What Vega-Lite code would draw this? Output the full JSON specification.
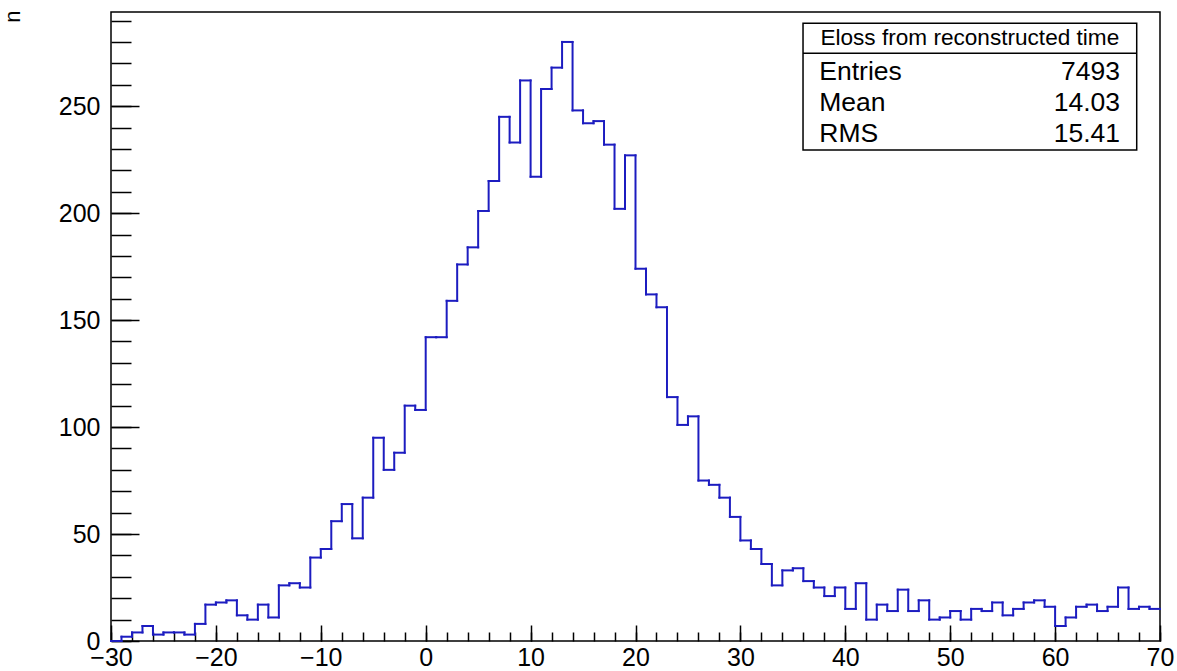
{
  "$schema": "https://vega.github.io/schema/vega-lite/v6.json",
  "width": 1049,
  "height": 629,
  "autosize": {"type": "none"},
  "padding": {"left": 111, "top": 12, "right": 17, "bottom": 30},
  "background": "white",
  "config": {
    "font": "Liberation Sans",
    "view": {"stroke": "black", "strokeWidth": 1.5},
    "axis": {
      "domain": false,
      "grid": false,
      "tickColor": "black",
      "tickWidth": 1.5,
      "labelColor": "black",
      "labelFont": "Liberation Sans",
      "labelOverlap": false,
      "labelFlush": false,
      "labelBound": false,
      "titleColor": "black",
      "titleFont": "Liberation Sans",
      "titleFontWeight": "normal"
    }
  },
  "datasets": {
    "hist": [
      {"lo": -30, "hi": -29, "n": 0},
      {"lo": -29, "hi": -28, "n": 2},
      {"lo": -28, "hi": -27, "n": 4},
      {"lo": -27, "hi": -26, "n": 7},
      {"lo": -26, "hi": -25, "n": 3},
      {"lo": -25, "hi": -24, "n": 4},
      {"lo": -24, "hi": -23, "n": 4},
      {"lo": -23, "hi": -22, "n": 3},
      {"lo": -22, "hi": -21, "n": 8},
      {"lo": -21, "hi": -20, "n": 17},
      {"lo": -20, "hi": -19, "n": 18},
      {"lo": -19, "hi": -18, "n": 19},
      {"lo": -18, "hi": -17, "n": 12},
      {"lo": -17, "hi": -16, "n": 10},
      {"lo": -16, "hi": -15, "n": 17},
      {"lo": -15, "hi": -14, "n": 11},
      {"lo": -14, "hi": -13, "n": 26},
      {"lo": -13, "hi": -12, "n": 27},
      {"lo": -12, "hi": -11, "n": 25},
      {"lo": -11, "hi": -10, "n": 39},
      {"lo": -10, "hi": -9, "n": 43},
      {"lo": -9, "hi": -8, "n": 56},
      {"lo": -8, "hi": -7, "n": 64},
      {"lo": -7, "hi": -6, "n": 48},
      {"lo": -6, "hi": -5, "n": 67},
      {"lo": -5, "hi": -4, "n": 95},
      {"lo": -4, "hi": -3, "n": 80},
      {"lo": -3, "hi": -2, "n": 88},
      {"lo": -2, "hi": -1, "n": 110},
      {"lo": -1, "hi": 0, "n": 108},
      {"lo": 0, "hi": 1, "n": 142},
      {"lo": 1, "hi": 2, "n": 142},
      {"lo": 2, "hi": 3, "n": 159},
      {"lo": 3, "hi": 4, "n": 176},
      {"lo": 4, "hi": 5, "n": 184},
      {"lo": 5, "hi": 6, "n": 201},
      {"lo": 6, "hi": 7, "n": 215},
      {"lo": 7, "hi": 8, "n": 245},
      {"lo": 8, "hi": 9, "n": 233},
      {"lo": 9, "hi": 10, "n": 262},
      {"lo": 10, "hi": 11, "n": 217},
      {"lo": 11, "hi": 12, "n": 258},
      {"lo": 12, "hi": 13, "n": 268},
      {"lo": 13, "hi": 14, "n": 280},
      {"lo": 14, "hi": 15, "n": 248},
      {"lo": 15, "hi": 16, "n": 242},
      {"lo": 16, "hi": 17, "n": 243},
      {"lo": 17, "hi": 18, "n": 232},
      {"lo": 18, "hi": 19, "n": 202},
      {"lo": 19, "hi": 20, "n": 227},
      {"lo": 20, "hi": 21, "n": 174},
      {"lo": 21, "hi": 22, "n": 162},
      {"lo": 22, "hi": 23, "n": 156},
      {"lo": 23, "hi": 24, "n": 114},
      {"lo": 24, "hi": 25, "n": 101},
      {"lo": 25, "hi": 26, "n": 105},
      {"lo": 26, "hi": 27, "n": 75},
      {"lo": 27, "hi": 28, "n": 73},
      {"lo": 28, "hi": 29, "n": 67},
      {"lo": 29, "hi": 30, "n": 58},
      {"lo": 30, "hi": 31, "n": 47},
      {"lo": 31, "hi": 32, "n": 43},
      {"lo": 32, "hi": 33, "n": 36},
      {"lo": 33, "hi": 34, "n": 26},
      {"lo": 34, "hi": 35, "n": 33},
      {"lo": 35, "hi": 36, "n": 34},
      {"lo": 36, "hi": 37, "n": 28},
      {"lo": 37, "hi": 38, "n": 25},
      {"lo": 38, "hi": 39, "n": 21},
      {"lo": 39, "hi": 40, "n": 25},
      {"lo": 40, "hi": 41, "n": 15},
      {"lo": 41, "hi": 42, "n": 27},
      {"lo": 42, "hi": 43, "n": 10},
      {"lo": 43, "hi": 44, "n": 17},
      {"lo": 44, "hi": 45, "n": 14},
      {"lo": 45, "hi": 46, "n": 24},
      {"lo": 46, "hi": 47, "n": 14},
      {"lo": 47, "hi": 48, "n": 19},
      {"lo": 48, "hi": 49, "n": 10},
      {"lo": 49, "hi": 50, "n": 11},
      {"lo": 50, "hi": 51, "n": 14},
      {"lo": 51, "hi": 52, "n": 10},
      {"lo": 52, "hi": 53, "n": 15},
      {"lo": 53, "hi": 54, "n": 14},
      {"lo": 54, "hi": 55, "n": 18},
      {"lo": 55, "hi": 56, "n": 12},
      {"lo": 56, "hi": 57, "n": 15},
      {"lo": 57, "hi": 58, "n": 18},
      {"lo": 58, "hi": 59, "n": 19},
      {"lo": 59, "hi": 60, "n": 16},
      {"lo": 60, "hi": 61, "n": 7},
      {"lo": 61, "hi": 62, "n": 11},
      {"lo": 62, "hi": 63, "n": 16},
      {"lo": 63, "hi": 64, "n": 17},
      {"lo": 64, "hi": 65, "n": 14},
      {"lo": 65, "hi": 66, "n": 16},
      {"lo": 66, "hi": 67, "n": 25},
      {"lo": 67, "hi": 68, "n": 15},
      {"lo": 68, "hi": 69, "n": 16},
      {"lo": 69, "hi": 70, "n": 15}
    ],
    "stats": [
      {"label": "Entries", "value": "7493", "row": 266.1},
      {"label": "Mean", "value": "14.03", "row": 251.3},
      {"label": "RMS", "value": "15.41", "row": 236.8}
    ],
    "box": [
      {"title": "Eloss from reconstructed time"}
    ]
  },
  "layer": [
    {
      "data": {"name": "hist"},
      "mark": {"type": "rule", "color": "#1c1cc0", "strokeWidth": 2, "strokeCap": "square"},
      "encoding": {
        "x": {
          "field": "lo", "type": "quantitative",
          "scale": {"domain": [-30, 70], "nice": false, "zero": false},
          "axis": {
            "orient": "bottom",
            "values": [-30, -20, -10, 0, 10, 20, 30, 40, 50, 60, 70],
            "tickSize": -16,
            "labelFontSize": 25,
            "labelPadding": 20,
            "title": null
          }
        },
        "x2": {"field": "hi"},
        "y": {
          "field": "n", "type": "quantitative",
          "scale": {"domain": [0, 294], "nice": false},
          "axis": {
            "orient": "left",
            "values": [0, 50, 100, 150, 200, 250],
            "tickSize": -28,
            "labelFontSize": 25,
            "labelPadding": 39,
            "title": "n",
            "titleFontSize": 22,
            "titleAnchor": "end",
            "titleAngle": -90,
            "titleAlign": "right",
            "titleBaseline": "alphabetic",
            "titleX": -92,
            "titleY": -2
          }
        }
      }
    },
    {
      "data": {"name": "hist"},
      "transform": [
        {"window": [{"op": "lag", "field": "n", "as": "prev"}], "sort": [{"field": "lo"}]}
      ],
      "mark": {"type": "rule", "color": "#1c1cc0", "strokeWidth": 2, "strokeCap": "square"},
      "encoding": {
        "x": {
          "field": "lo", "type": "quantitative",
          "axis": {
            "orient": "bottom",
            "values": [-30, -28, -26, -24, -22, -20, -18, -16, -14, -12, -10, -8, -6, -4, -2, 0, 2, 4, 6, 8, 10, 12, 14, 16, 18, 20, 22, 24, 26, 28, 30, 32, 34, 36, 38, 40, 42, 44, 46, 48, 50, 52, 54, 56, 58, 60, 62, 64, 66, 68, 70],
            "tickSize": -9,
            "labels": false,
            "title": null
          }
        },
        "y": {
          "field": "prev", "type": "quantitative",
          "axis": {
            "orient": "left",
            "values": [0, 10, 20, 30, 40, 50, 60, 70, 80, 90, 100, 110, 120, 130, 140, 150, 160, 170, 180, 190, 200, 210, 220, 230, 240, 250, 260, 270, 280, 290],
            "tickSize": -20,
            "labels": false,
            "title": null
          }
        },
        "y2": {"field": "n"}
      }
    },
    {
      "data": {"name": "box"},
      "mark": {"type": "rect", "fill": "white", "stroke": "black", "strokeWidth": 1.5},
      "encoding": {
        "x": {"datum": 35.97, "type": "quantitative", "axis": null},
        "x2": {"datum": 67.78},
        "y": {"datum": 288.7, "type": "quantitative", "axis": null},
        "y2": {"datum": 229.5}
      }
    },
    {
      "data": {"name": "box"},
      "mark": {"type": "rule", "color": "black", "strokeWidth": 1.5},
      "encoding": {
        "x": {"datum": 35.97, "type": "quantitative", "axis": null},
        "x2": {"datum": 67.78},
        "y": {"datum": 274.7, "type": "quantitative", "axis": null}
      }
    },
    {
      "data": {"name": "box"},
      "mark": {"type": "text", "font": "Liberation Sans", "fontSize": 22.6, "align": "center", "baseline": "middle", "color": "black"},
      "encoding": {
        "x": {"datum": 51.87, "type": "quantitative", "axis": null},
        "y": {"datum": 281.7, "type": "quantitative", "axis": null},
        "text": {"field": "title"}
      }
    },
    {
      "data": {"name": "stats"},
      "mark": {"type": "text", "font": "Liberation Sans", "fontSize": 26.5, "align": "left", "baseline": "middle", "color": "black"},
      "encoding": {
        "x": {"datum": 37.52, "type": "quantitative", "axis": null},
        "y": {"field": "row", "type": "quantitative", "axis": null},
        "text": {"field": "label"}
      }
    },
    {
      "data": {"name": "stats"},
      "mark": {"type": "text", "font": "Liberation Sans", "fontSize": 26.5, "align": "right", "baseline": "middle", "color": "black"},
      "encoding": {
        "x": {"datum": 66.19, "type": "quantitative", "axis": null},
        "y": {"field": "row", "type": "quantitative", "axis": null},
        "text": {"field": "value"}
      }
    }
  ],
  "resolve": {"axis": {"x": "independent", "y": "independent"}}
}
